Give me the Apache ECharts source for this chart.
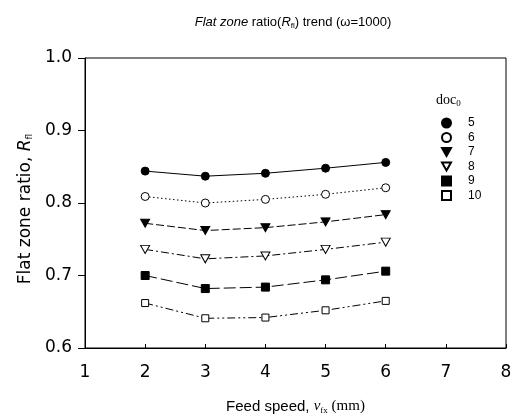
<!DOCTYPE html>
<html><head><meta charset="utf-8">
<script src="https://cdn.jsdelivr.net/npm/echarts@6/dist/echarts.min.js"></script>
<style>html,body{margin:0;padding:0;background:#fff}#c{width:522px;height:420px}</style>
</head><body><div id="c"></div>
<script>
const feedSpeed = [2, 3, 4, 5, 6];
const docNames = ['5', '6', '7', '8', '9', '10'];
const doc5 = [0.844, 0.837, 0.841, 0.848, 0.856];
const doc6 = [0.809, 0.800, 0.805, 0.812, 0.821];
const doc7 = [0.772, 0.762, 0.766, 0.774, 0.784];
const doc8 = [0.736, 0.723, 0.727, 0.736, 0.746];
const doc9 = [0.700, 0.682, 0.684, 0.694, 0.706];
const doc10 = [0.662, 0.641, 0.642, 0.652, 0.665];
const yTicks = [0.6, 0.7, 0.8, 0.9, 1.0];
const xTicks = [1, 2, 3, 4, 5, 6, 7, 8];

const seriesValues = [doc5, doc6, doc7, doc8, doc9, doc10];
const triDown = 'path://M0,0L10,0L5,9Z';
const symbols = ['circle', 'circle', triDown, triDown, 'rect', 'rect'];
const filled = [true, false, true, false, true, false];
const sizes = [8, 8, [9, 8], [9, 8], 8, 7];
const dashes = ['solid', [1.5, 2.5], [8, 3], [8, 3, 2, 3], [12, 4], [8, 3, 2, 3, 2, 3]];

const chart = echarts.init(document.getElementById('c'));
const sans = 'Liberation Sans';
const wide = 'DejaVu Sans';
const serif = 'Liberation Serif';

chart.setOption({
  animation: false,
  title: {
    text: '{i|Flat zone} ratio({ri|R}{sub|fl}) trend (ω=1000)',
    left: 288, top: 9, textAlign: 'center',
    textStyle: {
      fontFamily: sans, fontSize: 13, fontWeight: 'normal', color: '#000',
      rich: {
        i: {fontFamily: sans, fontSize: 13, fontStyle: 'italic', color: '#000'},
        ri: {fontFamily: sans, fontSize: 13, fontStyle: 'italic', color: '#000'},
        sub: {fontFamily: sans, fontSize: 8, color: '#000', padding: [8, 0, 0, 0]}
      }
    }
  },
  grid: {left: 85, right: 16, top: 58, bottom: 65, show: true, borderColor: '#000', borderWidth: 1},
  legend: {
    orient: 'vertical', left: 436, top: 112,
    itemWidth: 9, itemHeight: 9, itemGap: 2.5,
    textStyle: {fontFamily: sans, fontSize: 12, color: '#000', padding: [0, 0, 0, 12]},
    data: docNames.map((n, i) => ({name: n, icon: symbols[i]}))
  },
  graphic: [{
    type: 'text', left: 436, top: 93,
    style: {
      text: '{a|doc}{b|0}',
      rich: {
        a: {fontFamily: serif, fontSize: 14, fill: '#000'},
        b: {fontFamily: serif, fontSize: 9, fill: '#000', padding: [8, 0, 0, 0]}
      }
    }
  }],
  xAxis: {
    type: 'value', min: 1, max: 8, interval: 1,
    name: '{a|Feed speed, }{v|v}{s|fx}{m| (mm)}',
    nameLocation: 'middle', nameGap: 50,
    nameTextStyle: {
      rich: {
        a: {fontFamily: sans, fontSize: 15, color: '#000'},
        v: {fontFamily: serif, fontSize: 15, fontStyle: 'italic', color: '#000'},
        s: {fontFamily: serif, fontSize: 9, color: '#000', padding: [8, 0, 0, 0]},
        m: {fontFamily: serif, fontSize: 15, color: '#000'}
      }
    },
    axisLine: {lineStyle: {color: '#000', width: 1}},
    axisTick: {inside: true, length: 4, lineStyle: {color: '#000'}},
    axisLabel: {fontFamily: wide, fontSize: 17, color: '#000', margin: 16,
      formatter: v => xTicks.includes(v) ? String(v) : ''},
    splitLine: {show: false}
  },
  yAxis: {
    type: 'value', min: 0.6, max: 1.0, interval: 0.1,
    name: '{a|Flat zone ratio, }{r|R}{s|fl}',
    nameLocation: 'middle', nameGap: 44, nameRotate: 90,
    nameTextStyle: {
      padding: [0, 12, 0, 0],
      rich: {
        a: {fontFamily: wide, fontSize: 17, color: '#000'},
        r: {fontFamily: wide, fontSize: 17, fontStyle: 'italic', color: '#000'},
        s: {fontFamily: wide, fontSize: 9, color: '#000', padding: [8, 0, 0, 0]}
      }
    },
    axisLine: {show: true, lineStyle: {color: '#000', width: 1}},
    axisTick: {show: true, inside: false, length: 7, lineStyle: {color: '#000'}},
    axisLabel: {fontFamily: wide, fontSize: 17, color: '#000', margin: 13,
      formatter: v => { const t = yTicks.find(y => Math.abs(y - v) < 1e-6); return t !== undefined ? t.toFixed(1) : ''; }},
    splitLine: {show: false}
  },
  series: seriesValues.map((vals, i) => ({
    name: docNames[i], type: 'line',
    data: vals.map((v, j) => [feedSpeed[j], v]),
    symbol: symbols[i], symbolSize: sizes[i], showAllSymbol: true,
    lineStyle: {color: '#000', width: 1, type: dashes[i]},
    itemStyle: {color: filled[i] ? '#000' : '#fff', borderColor: '#000', borderWidth: 1},
    emphasis: {disabled: true}
  }))
});
</script></body></html>
